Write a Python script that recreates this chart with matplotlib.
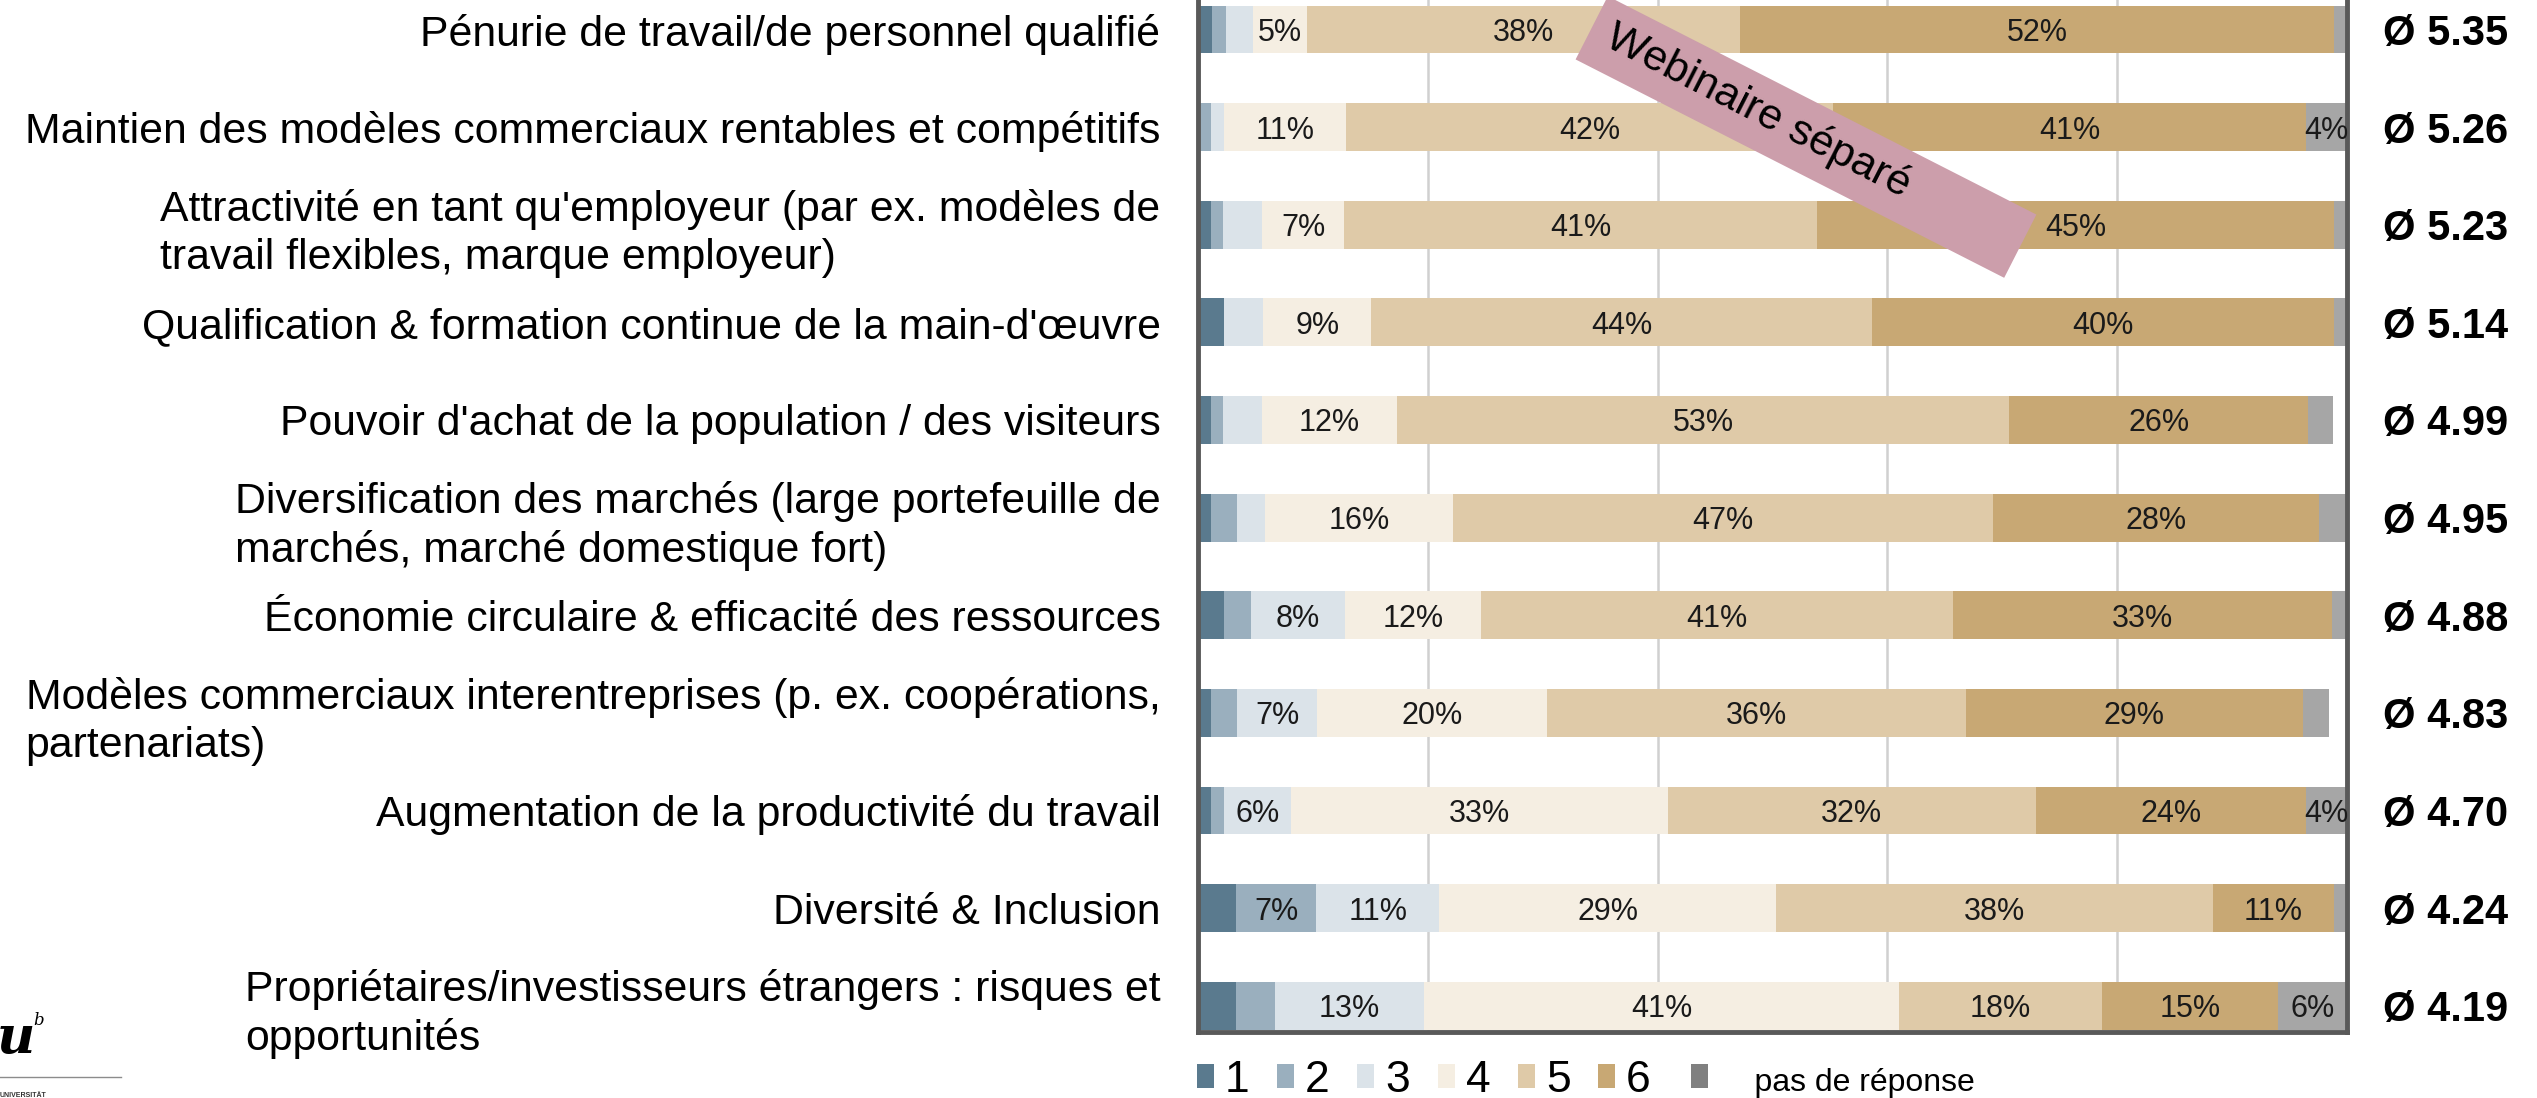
import matplotlib
matplotlib.use("Agg")
import matplotlib.pyplot as plt
import numpy as np
from matplotlib.patches import Patch, Rectangle
from matplotlib.lines import Line2D
from matplotlib.transforms import Affine2D

plt.rcParams['font.family'] = ['Liberation Sans', 'DejaVu Sans']

# ---------------- data ----------------
categories = [
    "Pénurie de travail/de personnel qualifié",
    "Maintien des modèles commerciaux rentables et compétitifs",
    "Attractivité en tant qu'employeur (par ex. modèles de\ntravail flexibles, marque employeur)",
    "Qualification & formation continue de la main-d'œuvre",
    "Pouvoir d'achat de la population / des visiteurs",
    "Diversification des marchés (large portefeuille de\nmarchés, marché domestique fort)",
    "Économie circulaire & efficacité des ressources",
    "Modèles commerciaux interentreprises (p. ex. coopérations,\npartenariats)",
    "Augmentation de la productivité du travail",
    "Diversité & Inclusion",
    "Propriétaires/investisseurs étrangers : risques et\nopportunités",
]
rating_labels = ["1", "2", "3", "4", "5", "6", "pas de réponse"]

share_1 = [1.2, 0.0, 1.1, 2.3, 1.1, 1.1, 2.3, 1.1, 1.1, 3.3, 3.3]
share_2 = [1.2, 1.1, 1.1, 0.0, 1.1, 2.3, 2.3, 2.3, 1.2, 7.0, 3.4]
share_3 = [2.4, 1.2, 3.4, 3.4, 3.4, 2.4, 8.2, 7.0, 5.8, 10.7, 13.0]
share_4 = [4.7, 10.6, 7.1, 9.4, 11.7, 16.4, 11.8, 20.0, 32.8, 29.3, 41.3]
share_5 = [37.7, 42.4, 41.2, 43.6, 53.3, 47.0, 41.1, 36.4, 32.0, 38.0, 17.7]
share_6 = [51.7, 41.1, 45.0, 40.2, 26.0, 28.4, 33.0, 29.4, 23.5, 10.6, 15.3]
share_na = [1.1, 3.6, 1.1, 1.1, 2.2, 2.4, 1.3, 2.2, 3.6, 1.1, 6.0]

means = [5.35, 5.26, 5.23, 5.14, 4.99, 4.95, 4.88, 4.83, 4.70, 4.24, 4.19]

series = [share_1, share_2, share_3, share_4, share_5, share_6, share_na]
bar_colors = ["#5a7a8e", "#9aafbe", "#dbe3e9", "#f5eee2", "#dfcaa8", "#c8a874", "#a6a6a6"]
legend_colors = ["#5a7a8e", "#9aafbe", "#dbe3e9", "#f5eee2", "#dfcaa8", "#c8a874", "#808080"]

# ---------------- figure ----------------
W, H = 2537, 1098
fig = plt.figure(figsize=(W / 100, H / 100), dpi=100)
ax = fig.add_axes([1198 / W, (H - 1032) / H, (2347 - 1198) / W, (1032 + 29) / H])

y = np.arange(len(categories))
left = np.zeros(len(categories))
for vals, col in zip(series, bar_colors):
    vals = np.array(vals)
    ax.barh(y, vals, left=left, height=0.49, color=col, edgecolor='none', zorder=2)
    for yi, (l, v) in enumerate(zip(left, vals)):
        if v >= 3.5:
            ax.text(l + v / 2, yi, f"{round(v)}%", ha='center', va='center_baseline',
                    fontsize=22, color='#1a1a1a', zorder=3)
    left = left + vals

ax.set_xlim(0, 100)
ax.set_ylim(10.27, -0.6)
ax.set_xticks([0, 20, 40, 60, 80, 100])
ax.grid(axis='x', color='#d0d0d0', linewidth=1.8, zorder=0)
ax.set_axisbelow(True)
ax.tick_params(axis='x', length=0, labelbottom=False)

ax.set_yticks(y)
ax.set_yticklabels(categories, fontsize=30.8, linespacing=1.25, color='black')
for t in ax.get_yticklabels():
    t.set_multialignment('left')
ax.tick_params(axis='y', length=0, pad=27)

for side in ['left', 'right', 'bottom']:
    ax.spines[side].set_color('#595959')
    ax.spines[side].set_linewidth(3.5)
ax.spines['top'].set_visible(False)

# mean values
for yi, m in enumerate(means):
    ax.text(1.031, yi, f"Ø {m:.2f}", transform=ax.get_yaxis_transform(), ha='left',
            va='center_baseline', fontsize=30, fontweight='bold', color='black')

# legend
handles = [Patch(facecolor=c, edgecolor='none') for c in legend_colors]
leg = ax.legend(handles, rating_labels, ncol=7, loc='center left',
                bbox_to_anchor=(1197 / W, (H - 1080) / H), bbox_transform=fig.transFigure,
                frameon=False, fontsize=32, handlelength=0.38, handleheight=0.45,
                handletextpad=0.25, columnspacing=0.62, borderpad=0, borderaxespad=0)
leg_texts = leg.get_texts()
leg_texts[5].set_text(rating_labels[5] + " ")
leg_texts[-1].set_text("    " + rating_labels[-1])
leg_texts[-1].set_fontsize(23)

# "Webinaire séparé" sticker
cx, cy = 18.06, (H - 137) / 100
tr = Affine2D().rotate_deg_around(cx, cy, -27) + fig.dpi_scale_trans
fig.add_artist(Rectangle((cx - 2.405, cy - 0.355), 4.81, 0.71, transform=tr,
                         facecolor='#cc9eab', edgecolor='none', zorder=10))
fig.text(17.58, (H - 111) / 100, "Webinaire séparé", transform=fig.dpi_scale_trans,
         rotation=-27, rotation_mode='anchor', ha='center', va='center',
         fontsize=31, color='black', zorder=11)

# university logo fragment
fig.text(-0.03, 0.45, "u", transform=fig.dpi_scale_trans, fontsize=38,
         family='DejaVu Serif', weight='bold', style='italic', va='baseline')
fig.text(0.33, 0.73, "b", transform=fig.dpi_scale_trans, fontsize=12,
         family='DejaVu Serif', style='italic', va='baseline')
fig.add_artist(Line2D([0, 1.21], [0.21, 0.21], transform=fig.dpi_scale_trans,
                      color='#8c8c8c', lw=1))
fig.text(0.0, 0.01, "UNIVERSITÄT", transform=fig.dpi_scale_trans, fontsize=5,
         weight='bold', va='baseline', color='#333333')

fig.savefig("out.png", dpi=100)
